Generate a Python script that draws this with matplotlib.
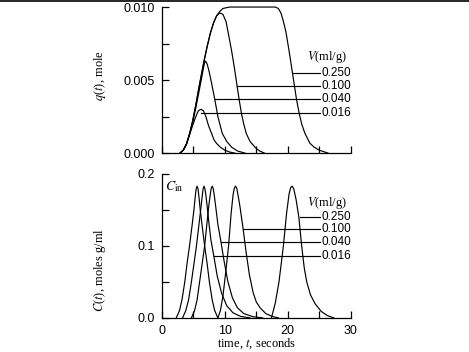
import numpy as np
import matplotlib
matplotlib.use("Agg")
import matplotlib.pyplot as plt
from matplotlib.lines import Line2D
from matplotlib.ticker import MultipleLocator

plt.rcParams['font.family'] = ['Liberation Serif', 'DejaVu Serif']
plt.rcParams['mathtext.fontset'] = 'stix'

# ---- data ----
volumes = ['0.250', '0.100', '0.040', '0.016']

# q(t), mole  (top panel)
t_q016 = [2.9, 3.4, 3.9, 4.4, 4.9, 5.4, 5.8, 6.2, 6.6, 7.0, 7.4, 7.9, 8.3, 8.7, 9.3, 10.0, 10.8, 11.6]
q016 = [0, 0.0002, 0.0006, 0.00125, 0.0019, 0.0025, 0.0029, 0.0030, 0.0029, 0.0025, 0.0019,
        0.00135, 0.0009, 0.00066, 0.0004, 0.0002, 0.00007, 0]

t_q040 = [2.9, 3.4, 3.9, 4.4, 4.9, 5.4, 5.9, 6.3, 6.6, 6.8, 6.95, 7.2, 7.5, 7.8, 8.4, 8.9, 9.6,
          10.3, 11.1, 12.0, 13.2]
q040 = [0, 0.0002, 0.0006, 0.0013, 0.0021, 0.0031, 0.0042, 0.0051, 0.0058, 0.0062, 0.0063,
        0.0061, 0.0056, 0.0050, 0.0037, 0.0025, 0.00135, 0.0008, 0.0004, 0.00015, 0]

t_q100 = [2.9, 3.4, 3.9, 4.4, 4.9, 5.4, 5.9, 6.3, 6.7, 7.2, 7.7, 8.2, 8.7, 9.2, 9.7, 10.2, 10.6,
          11.06, 11.5, 11.95, 12.3, 12.65, 13.0, 13.4, 14.0, 14.8, 15.5, 16.3]
q100 = [0, 0.0002, 0.0006, 0.0013, 0.0022, 0.0033, 0.0045, 0.0054, 0.0063, 0.0073, 0.0082,
        0.0089, 0.0094, 0.0096, 0.0095, 0.0090, 0.0081, 0.00705, 0.0059, 0.00459, 0.0036,
        0.0027, 0.0020, 0.00135, 0.0008, 0.0004, 0.00015, 0]

t_q250 = [2.9, 3.4, 3.9, 4.4, 4.9, 5.4, 5.9, 6.3, 6.7, 7.2, 7.7, 8.2, 8.7, 9.2, 9.7, 10.2, 10.8,
          11.5, 18.0, 18.5, 18.9, 19.25, 19.7, 20.2, 20.7, 21.4, 21.8, 22.2, 22.7, 23.5, 24.2,
          25.0, 26.4]
q250 = [0, 0.0002, 0.0006, 0.0013, 0.0022, 0.0033, 0.0045, 0.0054, 0.0063, 0.0073, 0.0082,
        0.0089, 0.0094, 0.0097, 0.0099, 0.00995, 0.0100, 0.0100, 0.0100, 0.0099, 0.0096,
        0.0091, 0.0083, 0.0070, 0.0056, 0.00363, 0.00274, 0.0020, 0.00137, 0.00068, 0.0004,
        0.0002, 0]

# C(t), moles g/ml  (bottom panel)
t_cin = [2.3, 2.8, 3.2, 3.65, 4.0, 4.4, 4.8, 5.1, 5.3, 5.45, 5.6, 5.75, 5.9, 6.1, 6.4, 6.8,
         7.2, 7.55, 8.0, 8.4, 8.9]
cin = [0, 0.01, 0.025, 0.05, 0.075, 0.10, 0.128, 0.15, 0.168, 0.179, 0.183, 0.179, 0.168,
       0.15, 0.128, 0.10, 0.075, 0.05, 0.025, 0.01, 0]

t_c016 = [3.3, 3.8, 4.25, 4.7, 5.1, 5.5, 5.9, 6.2, 6.4, 6.55, 6.7, 6.85, 7.0, 7.2, 7.5, 7.8,
          8.25, 8.8, 9.5, 10.3, 11.3, 12.5, 14.0]
c016 = [0, 0.01, 0.025, 0.05, 0.075, 0.10, 0.13, 0.152, 0.168, 0.179, 0.183, 0.179, 0.17,
        0.155, 0.13, 0.108, 0.086, 0.058, 0.034, 0.017, 0.007, 0.002, 0]

t_c040 = [4.7, 5.2, 5.6, 6.0, 6.4, 6.8, 7.15, 7.45, 7.7, 7.85, 8.0, 8.15, 8.3, 8.55, 8.9, 9.4,
          9.9, 10.5, 11.2, 12.0, 13.0, 14.5, 16.0]
c040 = [0, 0.01, 0.025, 0.05, 0.075, 0.10, 0.13, 0.155, 0.172, 0.18, 0.183, 0.18, 0.172,
        0.155, 0.13, 0.105, 0.078, 0.05, 0.028, 0.014, 0.006, 0.0015, 0]

t_c100 = [8.9, 9.3, 9.7, 10.1, 10.6, 11.0, 11.3, 11.5, 11.7, 11.9, 12.15, 12.4, 12.9, 13.4,
          13.9, 14.5, 15.0, 15.6, 16.5, 17.5, 18.5]
c100 = [0, 0.01, 0.03, 0.06, 0.10, 0.145, 0.17, 0.18, 0.183, 0.18, 0.168, 0.155, 0.124, 0.09,
        0.06, 0.035, 0.022, 0.014, 0.006, 0.002, 0]

t_c250 = [17.4, 18.0, 18.6, 19.3, 19.8, 20.2, 20.45, 20.7, 20.95, 21.3, 21.75, 22.2, 22.6,
          23.0, 23.6, 24.3, 25.3, 26.3, 27.3]
c250 = [0, 0.02, 0.05, 0.10, 0.145, 0.172, 0.181, 0.183, 0.179, 0.165, 0.14, 0.10, 0.07,
        0.05, 0.032, 0.02, 0.009, 0.003, 0]

# leader lines: (t where it leaves the curve, level)
lead_q_t = [20.9, 12.0, 8.5, 6.2]
lead_q_y = [0.00548, 0.00459, 0.0037, 0.00274]
lead_c_t = [21.9, 12.9, 9.4, 8.3]
lead_c_y = [0.140, 0.124, 0.105, 0.086]

# ---- figure ----
fig = plt.figure(figsize=(4.69, 3.52), dpi=100)
ax1 = fig.add_axes([0.345, 0.565, 0.403, 0.415])
ax2 = fig.add_axes([0.345, 0.097, 0.403, 0.409])

lw = 0.85

for ax in (ax1, ax2):
    for s in ('top', 'right'):
        ax.spines[s].set_visible(False)
    for s in ('left', 'bottom'):
        ax.spines[s].set_linewidth(0.9)
    ax.set_xlim(0, 30)
    ax.xaxis.set_major_locator(MultipleLocator(5))
    ax.tick_params(direction='in', length=5, width=0.9, pad=5)

# top panel
for t, q in [(t_q016, q016), (t_q040, q040), (t_q100, q100), (t_q250, q250)]:
    ax1.plot(t, q, color='black', lw=lw, clip_on=False)
ax1.set_ylim(0, 0.010)
ax1.yaxis.set_major_locator(MultipleLocator(0.0025))
ax1.yaxis.set_major_formatter(
    plt.FuncFormatter(lambda v, p: '%.3f' % v if abs(v / 0.005 - round(v / 0.005)) < 1e-6 else ''))
ax1.xaxis.set_major_formatter(plt.NullFormatter())
ax1.set_ylabel('$q$($t$), mole', fontsize=9)
ax1.yaxis.set_label_coords(-0.286, 0.53)
for lab in ax1.get_yticklabels():
    lab.set_fontfamily('Liberation Sans')
    lab.set_fontsize(9)

for v, x0, y0 in zip(volumes, lead_q_t, lead_q_y):
    ax1.plot([x0, 25.1], [y0, y0], color='black', lw=lw)
    ax1.text(25.3, y0, v, fontsize=8.5, family='Liberation Sans', va='center', ha='left')
ax1.text(26.3, 0.0066, '$V$(ml/g)', fontsize=9, ha='center', va='center')

# bottom panel
for t, c in [(t_cin, cin), (t_c016, c016), (t_c040, c040), (t_c100, c100), (t_c250, c250)]:
    ax2.plot(t, c, color='black', lw=lw, clip_on=False)
ax2.set_ylim(0, 0.2)
ax2.yaxis.set_major_locator(MultipleLocator(0.05))
ax2.yaxis.set_major_formatter(
    plt.FuncFormatter(lambda v, p: '%.1f' % v if abs(v / 0.1 - round(v / 0.1)) < 1e-6 else ''))
ax2.xaxis.set_major_formatter(
    plt.FuncFormatter(lambda v, p: '%d' % v if int(round(v)) % 10 == 0 else ''))
ax2.set_ylabel('$C$($t$), moles g/ml', fontsize=9)
ax2.yaxis.set_label_coords(-0.286, 0.33)
ax2.set_xlabel('time, $t$, seconds', fontsize=9, labelpad=0)
for lab in ax2.get_xticklabels() + ax2.get_yticklabels():
    lab.set_fontfamily('Liberation Sans')
    lab.set_fontsize(9)

for v, x0, y0 in zip(volumes, lead_c_t, lead_c_y):
    ax2.plot([x0, 25.1], [y0, y0], color='black', lw=lw)
    ax2.text(25.3, y0, v, fontsize=8.5, family='Liberation Sans', va='center', ha='left')
ax2.text(26.3, 0.160, '$V$(ml/g)', fontsize=9, ha='center', va='center')
ax2.text(3.5, 0.182, r'$C_{\mathrm{in}}$', fontsize=10, ha='right', va='center')

# rule across the top of the page
fig.add_artist(Line2D([0, 1], [0.997, 0.997], color='black', lw=1.2, transform=fig.transFigure))

fig.savefig('out.png', dpi=100)
